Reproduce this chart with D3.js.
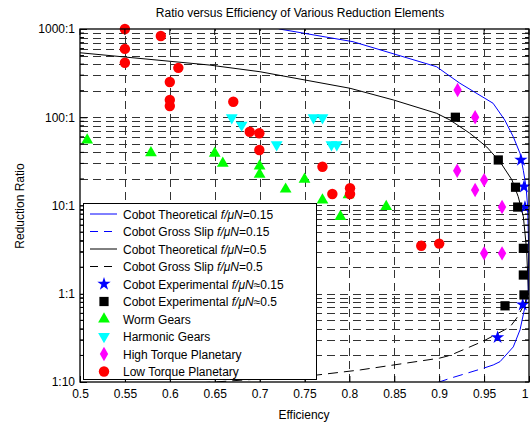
<!DOCTYPE html>
<html><head><meta charset="utf-8">
<script src="https://cdn.jsdelivr.net/npm/d3@7"></script>
<style>
html,body{margin:0;padding:0;background:#fff;}
svg text{font-family:"Liberation Sans",Arial,sans-serif;}
</style>
</head><body>
<svg id="chart" width="530" height="423"></svg>
<script>
// ---- data (efficiency, reduction ratio) ----
const xTicks = [0.5,0.55,0.6,0.65,0.7,0.75,0.8,0.85,0.9,0.95,1];
const xTickLabels = ["0.5","0.55","0.6","0.65","0.7","0.75","0.8","0.85","0.9","0.95","1"];
const yTicks = [0.1,1,10,100,1000];
const yTickLabels = ["1:10","1:1","10:1","100:1","1000:1"];

const theo015 = [[0.715,1080],[0.722,1000],[0.804,718],[0.897,374],[0.923,243],[0.960,144],[0.973,93],[0.9825,60],[0.990,39],[0.9937,25],[0.9967,16.3],[0.9985,9.7],[0.9997,3.1],[0.9992,1.0],[0.9955,0.71],[0.990,0.39],[0.9825,0.25],[0.9677,0.17],[0.9602,0.156]];
const slip015 = [[0.9602,0.156],[0.949,0.143],[0.912,0.110],[0.900,0.100],[0.880,0.088]];
const theo05 = [[0.5,538],[0.6437,391],[0.7004,328],[0.8007,213],[0.849,157],[0.897,111],[0.912,93],[0.934,66],[0.953,46],[0.968,31],[0.981,19.5],[0.988,12.6],[0.9937,7.5],[0.9974,3.1],[0.9992,1.1],[0.9955,0.78]];
const slip05 = [[0.9955,0.78],[0.9863,0.53],[0.9788,0.42],[0.949,0.29],[0.912,0.20],[0.900,0.186],[0.812,0.137],[0.764,0.12],[0.65,0.1],[0.55,0.088],[0.5,0.083]];

const exp015 = [[0.991,32.8],[0.9944,16.3],[0.9955,9.6],[0.993,0.75],[0.965,0.32]];
const exp05 = [[0.918,100],[0.9658,32.8],[0.985,16.1],[0.9874,9.6],[0.9937,3.27],[0.9937,1.63],[0.9944,0.97],[0.9733,0.73]];
const wormGears = [[0.508,55],[0.579,39.5],[0.650,39],[0.659,30],[0.700,28],[0.700,22.6],[0.729,15.3],[0.750,19.8],[0.770,11.5],[0.790,7.5],[0.799,13.2],[0.841,9.7]];
const harmonicGears = [[0.669,99],[0.680,81.6],[0.719,49],[0.760,99],[0.770,99],[0.780,49],[0.786,49]];
const highTorque = [[0.9205,204],[0.940,100],[0.920,24.8],[0.950,19.4],[0.940,15],[0.970,9.6],[0.950,2.87],[0.970,2.87]];
const lowTorque = [[0.550,1000],[0.550,595],[0.550,415],[0.590,832],[0.6095,363],[0.600,251],[0.600,157],[0.600,134],[0.6707,150],[0.689,68.5],[0.6997,65.8],[0.6997,42.6],[0.770,27.5],[0.781,13.5],[0.8007,15.7],[0.8007,13.5],[0.880,3.5],[0.900,3.7]];

const legendLabels = [
  ["Cobot Theoretical ","f/\u03BCN","=0.15"],
  ["Cobot Gross Slip ","f/\u03BCN","=0.15"],
  ["Cobot Theoretical ","f/\u03BCN","=0.5"],
  ["Cobot Gross Slip ","f/\u03BCN","=0.5"],
  ["Cobot Experimental ","f/\u03BCN","\u22480.15"],
  ["Cobot Experimental ","f/\u03BCN","\u22480.5"],
  ["Worm Gears","",""],
  ["Harmonic Gears","",""],
  ["High Torque Planetary","",""],
  ["Low Torque Planetary","",""]
];

// ---- layout ----
const L = 80, R = 529, T = 29, B = 382;
const svg = d3.select("#chart");
const x = d3.scaleLinear().domain([0.5,1]).range([L,R]);
const y = d3.scaleLog().domain([0.1,1000]).range([B,T]);

svg.append("defs").append("clipPath").attr("id","clip")
  .append("rect").attr("x",L).attr("y",T).attr("width",R-L).attr("height",B-T);

// grid
const minorY = [];
[0.1,1,10,100].forEach(d=>{for(let k=1;k<=9;k++) minorY.push(d*k);});
minorY.push(1000);
const grid = svg.append("g").attr("stroke","#333").attr("stroke-width",1).attr("stroke-dasharray","8,5");
grid.selectAll("line.h").data(minorY.filter(v=>v>0.1&&v<1000)).enter().append("line")
  .attr("x1",L).attr("x2",R).attr("y1",d=>Math.round(y(d))+0.5).attr("y2",d=>Math.round(y(d))+0.5);
grid.selectAll("line.v").data(xTicks.filter(v=>v>0.5&&v<1)).enter().append("line")
  .attr("y1",B).attr("y2",T).attr("x1",d=>Math.round(x(d))+0.5).attr("x2",d=>Math.round(x(d))+0.5);

// curves
const line = d3.line().x(d=>x(d[0])).y(d=>y(d[1]));
const cg = svg.append("g").attr("clip-path","url(#clip)").attr("fill","none");
cg.append("path").datum(theo05).attr("d",line).attr("stroke","#000").attr("stroke-width",1);
cg.append("path").datum(slip05).attr("d",line).attr("stroke","#000").attr("stroke-width",1).attr("stroke-dasharray","10,6");
cg.append("path").datum(theo015).attr("d",line).attr("stroke","#0000ff").attr("stroke-width",1);
cg.append("path").datum(slip015).attr("d",line).attr("stroke","#0000ff").attr("stroke-width",1).attr("stroke-dasharray","10,6");

// markers
const series = [
  {data:exp015, type:d3.symbolStar, size:55, fill:"#0000ff", rot:0},
  {data:exp05, type:d3.symbolSquare, size:85, fill:"#000", rot:0},
  {data:wormGears, type:d3.symbolTriangle, size:60, fill:"#00ff00", rot:0},
  {data:harmonicGears, type:d3.symbolTriangle, size:60, fill:"#00ffff", rot:180},
  {data:highTorque, type:d3.symbolDiamond, size:60, fill:"#ff00ff", rot:0},
  {data:lowTorque, type:d3.symbolCircle, size:85, fill:"#ff0000", rot:0}
];
const mg = svg.append("g");
series.forEach(s=>{
  mg.selectAll(null).data(s.data).enter().append("path")
    .attr("d",d3.symbol().type(s.type).size(s.size))
    .attr("transform",d=>`translate(${x(d[0])},${y(d[1])}) rotate(${s.rot})`)
    .attr("fill",s.fill);
});

// axes frame
const ax = svg.append("g");
ax.append("rect").attr("x",L).attr("y",T).attr("width",R-L).attr("height",B-T)
  .attr("fill","none").attr("stroke","#000").attr("stroke-width",1.3);

const yAxis = d3.axisLeft(y).tickValues(yTicks).tickSizeInner(-7).tickSizeOuter(0).tickPadding(5)
  .tickFormat((d,i)=>yTickLabels[i]);
const ya = svg.append("g").attr("transform",`translate(${L},0)`).call(yAxis);
ya.select(".domain").remove();
// minor y ticks
const minorTicks = minorY.filter(v=>yTicks.indexOf(v)<0 && v>0.1 && v<1000);
svg.append("g").selectAll("line").data(minorTicks).enter().append("line")
  .attr("x1",L).attr("x2",L+4).attr("y1",d=>y(d)).attr("y2",d=>y(d)).attr("stroke","#000");
svg.append("g").selectAll("line").data(minorTicks.concat(yTicks)).enter().append("line")
  .attr("x1",R).attr("x2",R-4).attr("y1",d=>y(d)).attr("y2",d=>y(d)).attr("stroke","#000");

const xAxis = d3.axisBottom(x).tickValues(xTicks).tickSizeInner(-6).tickSizeOuter(0).tickPadding(7)
  .tickFormat((d,i)=>xTickLabels[i]);
const xa = svg.append("g").attr("transform",`translate(0,${B})`).call(xAxis);
xa.select(".domain").remove();
// keep the last label ("1") inside the window
xa.selectAll(".tick text").filter(d=>d===1).attr("text-anchor","end").attr("dx","-1");
svg.append("g").selectAll("line").data(xTicks).enter().append("line")
  .attr("x1",d=>x(d)).attr("x2",d=>x(d)).attr("y1",T).attr("y2",T+6).attr("stroke","#000");

svg.selectAll(".tick text").attr("font-size",12).attr("fill","#000").attr("font-family","Liberation Sans, Arial, sans-serif");
svg.selectAll(".tick line").attr("stroke","#000");

// title and labels
svg.append("text").attr("x",300).attr("y",17).attr("text-anchor","middle").attr("font-size",12)
  .text("Ratio versus Efficiency of Various Reduction Elements");
svg.append("text").attr("x",304).attr("y",419).attr("text-anchor","middle").attr("font-size",12)
  .text("Efficiency");
svg.append("text").attr("transform","translate(24,206) rotate(-90)").attr("text-anchor","middle").attr("font-size",12)
  .text("Reduction Ratio");

// legend
const lg = svg.append("g");
const lx0 = 83, ly0 = 203, lw = 233, lh = 176;
lg.append("rect").attr("x",lx0+0.5).attr("y",ly0+0.5).attr("width",lw).attr("height",lh)
  .attr("fill","#fff").attr("stroke","#000").attr("stroke-width",1);
const rowY = i => 214 + i*17.5;
const lineStyles = [
  {c:"#0000ff",dash:null},{c:"#0000ff",dash:"8,6"},{c:"#000",dash:null},{c:"#000",dash:"8,6"}
];
lineStyles.forEach((s,i)=>{
  const l = lg.append("line").attr("x1",90).attr("x2",117).attr("y1",rowY(i)).attr("y2",rowY(i))
    .attr("stroke",s.c).attr("stroke-width",1);
  if(s.dash) l.attr("stroke-dasharray",s.dash);
});
series.forEach((s,j)=>{
  lg.append("path").attr("d",d3.symbol().type(s.type).size(s.size))
    .attr("transform",`translate(104,${rowY(j+4)}) rotate(${s.rot})`).attr("fill",s.fill);
});
legendLabels.forEach((lab,i)=>{
  const t = lg.append("text").attr("x",123).attr("y",rowY(i)+4.5).attr("font-size",12);
  t.append("tspan").text(lab[0]);
  if(lab[1]) t.append("tspan").attr("font-style","italic").text(lab[1]);
  if(lab[2]) t.append("tspan").text(lab[2]);
});
</script>
</body></html>
